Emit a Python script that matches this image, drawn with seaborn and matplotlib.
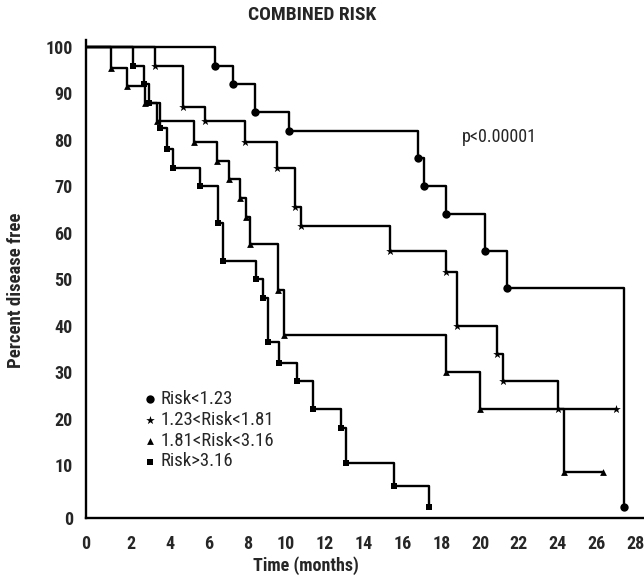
import numpy as np
import matplotlib
matplotlib.use("Agg")
import matplotlib.pyplot as plt
from matplotlib import font_manager
import seaborn as sns

# Kaplan-Meier curves (time in months, percent disease free)
low_t = [6.35, 7.28, 8.40, 10.15, 16.81, 17.12, 18.26, 20.27, 21.41, 27.44]
low_s = [96, 92, 86, 82, 76, 70, 64, 56, 48, 2]

mid1_t = [3.24, 4.67, 5.82, 7.88, 9.52, 10.46, 10.76, 15.37, 18.24, 18.81, 20.88, 21.16, 24.02, 27.03]
mid1_s = [96, 87, 84, 79.5, 74, 65.5, 61.5, 56, 51.5, 40, 34, 28, 22, 22]

mid2_t = [1.1, 1.82, 2.72, 3.33, 5.27, 6.42, 7.04, 7.63, 7.94, 8.14, 9.6, 9.9, 18.24, 20.01, 24.31, 26.35]
mid2_s = [95.5, 91.5, 88, 84, 79.5, 75.5, 71.5, 67.5, 63.5, 57.5, 47.7, 38, 30, 22, 8.7, 8.7]

high_t = [2.09, 2.69, 2.94, 3.50, 3.84, 4.15, 5.56, 6.47, 6.73, 8.45, 8.80, 9.06, 9.64, 10.57,
          11.39, 12.84, 13.10, 15.57, 17.38]
high_s = [96, 92, 88, 82.5, 78, 74, 70, 62, 54, 50, 46, 36.5, 32, 28, 22, 18, 10.5, 6, 2]

labels = ["Risk<1.23", "1.23<Risk<1.81", "1.81<Risk<3.16", "Risk>3.16"]
markers = ["o", "*", "^", "s"]
msizes = [36, 42, 24, 20]

xticks = list(range(0, 29, 2))
yticks = list(range(0, 101, 10))

sns.set_style("white")
available = {f.name for f in font_manager.fontManager.ttflist}
cond = [f for f in ["Liberation Sans Narrow", "DejaVu Sans Condensed", "Roboto Condensed",
                    "Liberation Sans", "DejaVu Sans"] if f in available]
plt.rcParams["font.family"] = cond

fig = plt.figure(figsize=(6.44, 5.79), dpi=100)
ax = fig.add_axes([86 / 644, 1 - 518 / 579, (644 - 86) / 644, (518 - 40) / 579])


# the original axes are stretched a little between 0 and the first tick
def fx(t):
    t = np.asarray(t, dtype=float)
    return np.where(t < 2, t * 1.156, t + 0.312)


def ifx(z):
    z = np.asarray(z, dtype=float)
    return np.where(z < 2.312, z / 1.156, z - 0.312)


def fy(y):
    y = np.asarray(y, dtype=float)
    return np.where(y < 10, y * 1.141, y + 1.41)


def ify(z):
    z = np.asarray(z, dtype=float)
    return np.where(z < 11.41, z / 1.141, z - 1.41)


ax.set_xscale("function", functions=(fx, ifx))
ax.set_yscale("function", functions=(fy, ify))

groups = [(low_t, low_s), (mid1_t, mid1_s), (mid2_t, mid2_s), (high_t, high_s)]
for (t, s), lab, mk, ms in zip(groups, labels, markers, msizes):
    sns.lineplot(x=[0] + t, y=[100] + s, drawstyle="steps-post", color="black",
                 lw=1.7, ax=ax, sort=False, estimator=None)
    sns.scatterplot(x=t, y=s, marker=mk, s=ms, color="black", linewidth=0,
                    ax=ax, label=lab, zorder=3)

ax.set_xlim(0, 28.45)
ax.set_ylim(0, 101.5)
ax.set_xticks(xticks)
ax.set_yticks(yticks)
ax.set_xticklabels([str(v) for v in xticks], fontsize=13, fontweight="bold")
ax.set_yticklabels([str(v) for v in yticks], fontsize=13, fontweight="bold")
ax.tick_params(axis="both", direction="out", length=8.5, width=1.4, color="black", pad=1)
ax.tick_params(axis="x", pad=4)

for side in ["top", "right"]:
    ax.spines[side].set_visible(False)
for side in ["left", "bottom"]:
    ax.spines[side].set_linewidth(1.7)
    ax.spines[side].set_color("black")

ax.set_xlabel("Time (months)", fontsize=13, fontweight="bold")
ax.set_ylabel("Percent disease free", fontsize=13.5, fontweight="bold")
ax.xaxis.set_label_coords((306 - 86) / 558, (518 - 556) / 478)
ax.yaxis.set_label_coords((25 - 86) / 558, (518 - 290) / 478)
fig.text(312 / 644, 1 - 15 / 579, "COMBINED RISK", ha="center", va="center",
         fontsize=14, fontweight="bold")
fig.text(462 / 644, 1 - 137 / 579, "p<0.00001", ha="left", va="center", fontsize=13)

leg = ax.legend(loc="upper left", bbox_to_anchor=(144 / 644, 1 - 390 / 579),
                bbox_transform=fig.transFigure, frameon=False, fontsize=13.5,
                handlelength=0.6, handletextpad=0.3, labelspacing=0.15,
                borderpad=0, borderaxespad=0)

fig.savefig("out.png", dpi=100)
